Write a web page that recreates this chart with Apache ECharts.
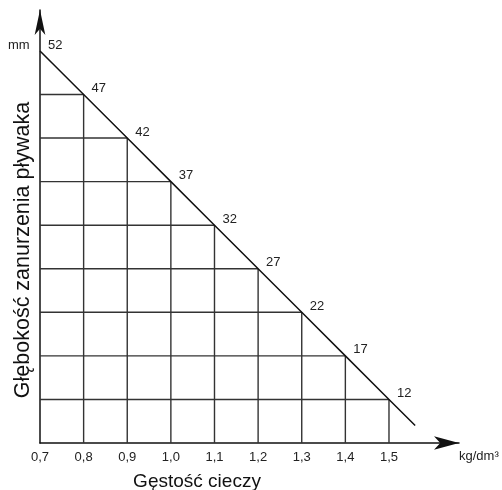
<!DOCTYPE html>
<html><head><meta charset="utf-8">
<script src="https://cdn.jsdelivr.net/npm/echarts@6/dist/echarts.min.js"></script>
<style>html,body{margin:0;padding:0;background:#fff}#c{width:502px;height:490px}</style>
</head><body><div id="c"></div>
<script>
// ---- data ----
const densities = [0.7, 0.8, 0.9, 1.0, 1.1, 1.2, 1.3, 1.4, 1.5];
const depths = [52, 47, 42, 37, 32, 27, 22, 17, 12];
const lineEndDensity = 1.56;
const lineEndDepth = 9;
const xTickLabels = ['0,7', '0,8', '0,9', '1,0', '1,1', '1,2', '1,3', '1,4', '1,5'];
const xTitle = 'Gęstość cieczy';
const yTitle = 'Głębokość zanurzenia pływaka';
const xUnit = 'kg/dm³';
const yUnit = 'mm';
const xMin = 0.7, xMax = 1.6605, yMin = 7, yMax = 56.7;

// ---- build ----
const FONT = '"Liberation Sans", Arial, Helvetica, sans-serif';
const chart = echarts.init(document.getElementById('c'), null, {renderer: 'canvas'});

const diagData = densities.map((d, i) => [d, depths[i]]);
diagData.push({value: [lineEndDensity, lineEndDepth], label: {show: false}});

const gridStyle = {color: '#333', width: 1.4};
const segSeries = [];
for (let i = 1; i < densities.length; i++) {
  segSeries.push({
    type: 'line', silent: true, symbol: 'none', z: 1,
    lineStyle: gridStyle,
    data: [[densities[0], depths[i]], [densities[i], depths[i]]]
  });
  segSeries.push({
    type: 'line', silent: true, symbol: 'none', z: 1,
    lineStyle: gridStyle,
    data: [[densities[i], yMin], [densities[i], depths[i]]]
  });
}

const option = {
  animation: false,
  backgroundColor: '#fff',
  textStyle: {fontFamily: FONT},
  grid: {left: 40, right: 43, top: 10, bottom: 47, outerBoundsMode: 'none', containLabel: false},
  xAxis: {
    type: 'value', min: xMin, max: xMax, interval: 0.1,
    name: xTitle, nameLocation: 'middle', nameGap: 29,
    nameTextStyle: {fontSize: 19, color: '#111', fontFamily: FONT, padding: [0, 105, 0, 0]},
    axisLine: {show: true, symbol: ['none', 'arrow'], symbolSize: [10, 25], lineStyle: {color: '#111', width: 1.5}},
    axisTick: {show: false},
    splitLine: {show: false},
    axisLabel: {
      show: true, margin: 8, fontSize: 13, color: '#222', fontFamily: FONT,
      showMaxLabel: false,
      formatter: v => {
        const k = Math.round((v - xMin) * 10);
        return (k >= 0 && k < xTickLabels.length) ? xTickLabels[k] : '';
      }
    }
  },
  yAxis: {
    type: 'value', min: yMin, max: yMax,
    name: yTitle, nameLocation: 'middle', nameGap: 6, nameRotate: 90,
    nameTextStyle: {fontSize: 21.5, color: '#111', fontFamily: FONT, padding: [0, 47, 0, 0]},
    axisLine: {show: true, symbol: ['none', 'arrow'], symbolSize: [8, 25], lineStyle: {color: '#111', width: 1.5}},
    axisTick: {show: false},
    splitLine: {show: false},
    axisLabel: {show: false}
  },
  graphic: [
    {type: 'text', left: 8, top: 39, style: {text: yUnit, fill: '#222', font: '13px ' + FONT}},
    {type: 'text', left: 459, top: 450, style: {text: xUnit, fill: '#222', font: '13px ' + FONT}}
  ],
  series: segSeries.concat([{
    type: 'line', z: 3, symbol: 'circle', symbolSize: 0,
    lineStyle: {color: '#111', width: 1.5},
    itemStyle: {color: '#111'},
    label: {
      show: true, position: 'right', distance: 8, offset: [0, -6],
      fontSize: 13, color: '#222', fontFamily: FONT,
      formatter: p => String(p.value[1])
    },
    data: diagData
  }])
};
chart.setOption(option);
</script>
</body></html>
